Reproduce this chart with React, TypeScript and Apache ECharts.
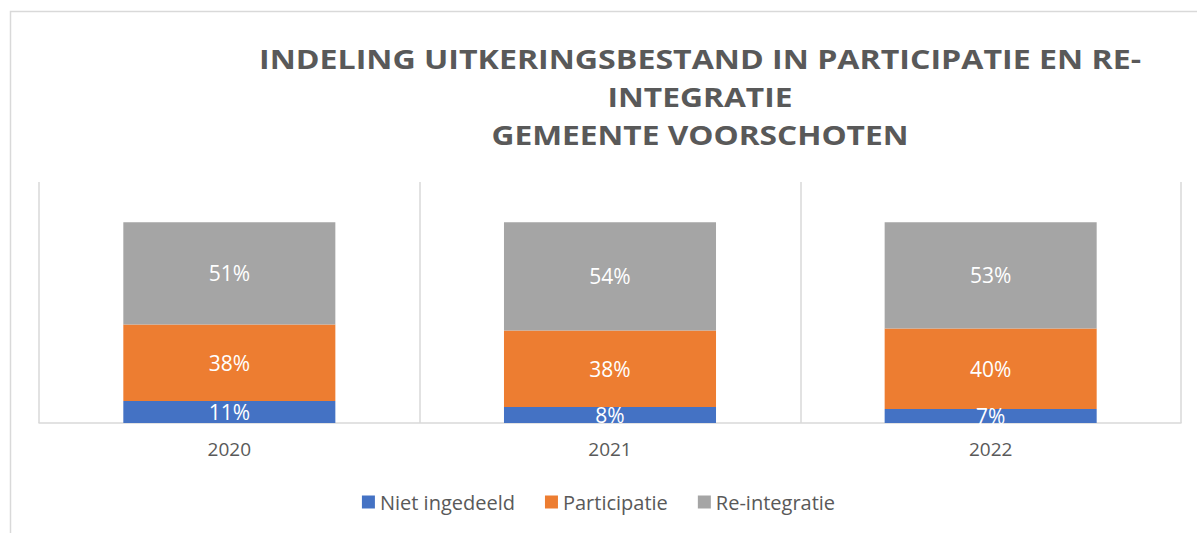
import React, { useEffect, useRef } from "react";
import * as echarts from "echarts";

const categories = ["2020", "2021", "2022"];
const seriesNames = ["Niet ingedeeld", "Participatie", "Re-integratie"];
const nietIngedeeld = [11, 8, 7];
const participatie = [38, 38, 40];
const reIntegratie = [51, 54, 53];
const seriesColors = ["#4472C4", "#ED7D31", "#A5A5A5"];
const titleLines = [
  "INDELING UITKERINGSBESTAND IN PARTICIPATIE EN RE-",
  "INTEGRATIE",
  "GEMEENTE VOORSCHOTEN",
];
const titleWidths = [882, 185, 417];
const titleY = [59, 97, 135];

const FONT = '"Open Sans", "Noto Sans", sans-serif';
const TITLE_SIZE = 26;

function measure(text: string, font: string): number {
  const c = document.createElement("canvas");
  const ctx = c.getContext("2d");
  if (!ctx) return text.length * 15;
  ctx.font = font;
  return ctx.measureText(text).width;
}

export default function App() {
  const ref = useRef<HTMLDivElement>(null);
  useEffect(() => {
    if (!ref.current) return;
    const chart = echarts.init(ref.current, null, { renderer: "svg" });
    const titleFont = `bold ${TITLE_SIZE}px "Open Sans"`;
    const titleGraphics = titleLines.map((t, i) => {
      const w = measure(t, titleFont);
      return {
        type: "text",
        x: 700,
        y: titleY[i],
        scaleX: titleWidths[i] / w,
        silent: true,
        style: {
          text: t,
          fontSize: TITLE_SIZE,
          fontWeight: "bold",
          fontFamily: FONT,
          fill: "#595959",
          align: "center",
          verticalAlign: "middle",
        },
      };
    });
    const dataSets = [nietIngedeeld, participatie, reIntegratie];
    chart.setOption({
      animation: false,
      backgroundColor: "#ffffff",
      textStyle: { fontFamily: FONT },
      graphic: [
        {
          type: "rect",
          z: -10,
          silent: true,
          shape: { x: 10.5, y: 11.5, width: 1200, height: 560 },
          style: { fill: "none", stroke: "#d9d9d9", lineWidth: 1.5 },
        },
        ...titleGraphics,
      ],
      grid: { left: 39, right: 16, top: 182, bottom: 110 },
      legend: {
        bottom: 16,
        left: "center",
        itemWidth: 13,
        itemHeight: 13,
        itemGap: 30,
        icon: "rect",
        textStyle: { color: "#595959", fontSize: 20, fontFamily: FONT },
        data: seriesNames,
      },
      xAxis: {
        type: "category",
        data: categories,
        axisLine: { lineStyle: { color: "#d9d9d9", width: 1.5 } },
        axisTick: { show: false },
        splitLine: { show: true, lineStyle: { color: "#d9d9d9", width: 1.5 } },
        axisLabel: { color: "#595959", fontSize: 19, margin: 16, fontFamily: FONT },
      },
      yAxis: { type: "value", min: 0, max: 120, show: false, splitLine: { show: false } },
      series: seriesNames.map((name, i) => ({
        name,
        type: "bar",
        stack: "total",
        barCategoryGap: "44.3%",
        data: dataSets[i],
        itemStyle: { color: seriesColors[i] },
        label: {
          show: true,
          position: "inside",
          color: "#ffffff",
          fontSize: 21,
          fontFamily: FONT,
          formatter: (p: any) => `${p.value}%`,
        },
      })),
    });
    return () => chart.dispose();
  }, []);
  return (
    <div
      ref={ref}
      style={{ position: "fixed", left: 0, top: 0, width: 1197, height: 533, background: "#fff" }}
    />
  );
}
